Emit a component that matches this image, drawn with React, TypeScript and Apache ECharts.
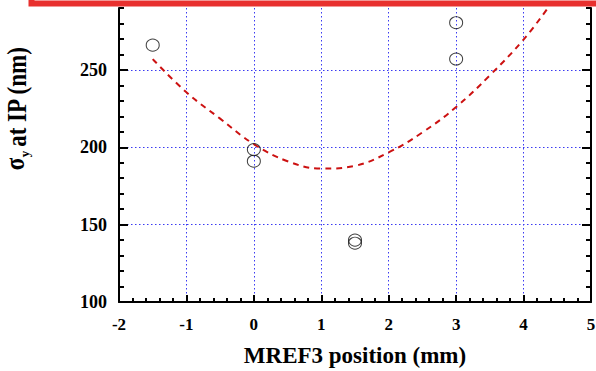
import React, { useEffect, useRef } from 'react';
import * as echarts from 'echarts';

// Measured points (open circles)
const pointX = [-1.5, 0, 0, 1.5, 1.5, 3, 3];
const pointY = [266, 198.5, 191, 140, 138, 280.5, 257];
// Dashed fit curve
const fitX = [-1.5, -1, -0.5, 0, 0.5, 1, 1.5, 2, 2.5, 3, 3.5, 4, 4.36];
const fitY = [257, 235.5, 218.5, 202, 191, 186.2, 188, 196.7, 209.6, 226, 246.5, 269.6, 290];
// Axes
const xRange = [-2, 5];
const yRange = [100, 290];
const yMajor = [100, 150, 200, 250];
const xTitle = 'MREF3 position (mm)';
const yTitleSigma = 'σ';
const yTitleSub = 'y';
const yTitleRest = 'at IP (nm)';

const SERIF = '"Liberation Serif", "Times New Roman", serif';
const GRID_COLOR = '#3a3af2';

export default function App() {
  const ref = useRef<HTMLDivElement>(null);
  useEffect(() => {
    document.body.style.margin = '0';
    const chart = echarts.init(ref.current!, null, { renderer: 'svg' });
    const dotted = { color: GRID_COLOR, width: 1, type: [1.5, 2.5] as any };
    const minorAxisBase = {
      type: 'value',
      min: yRange[0],
      max: yRange[1],
      interval: 10,
      axisLabel: { show: false },
      splitLine: { show: false },
    };
    chart.setOption({
      animation: false,
      backgroundColor: '#ffffff',
      grid: { left: 119, right: 5, top: 8, bottom: 69, containLabel: false, outerBoundsMode: 'none' },
      xAxis: [
        {
          type: 'value',
          position: 'bottom',
          min: xRange[0],
          max: xRange[1],
          interval: 1,
          name: xTitle,
          nameLocation: 'middle',
          nameGap: 42,
          nameTextStyle: { fontFamily: SERIF, fontWeight: 'bold', fontSize: 23, color: '#000' },
          axisLine: { show: true, onZero: false, lineStyle: { color: '#000', width: 2 } },
          axisTick: { show: true, inside: true, length: 7, lineStyle: { color: '#000', width: 2 } },
          minorTick: { show: true, splitNumber: 5, length: 4, lineStyle: { color: '#000', width: 2 } },
          axisLabel: {
            margin: 14,
            fontFamily: SERIF,
            fontWeight: 'bold',
            fontSize: 17,
            color: '#000',
          },
          splitLine: { show: true, showMinLine: false, showMaxLine: false, lineStyle: dotted },
        },
      ],
      yAxis: [
        {
          type: 'value',
          position: 'left',
          min: yRange[0],
          max: yRange[1],
          interval: 50,
          axisLine: { show: true, onZero: false, lineStyle: { color: '#000', width: 2 } },
          axisTick: { show: true, inside: true, length: 9, customValues: yMajor, lineStyle: { color: '#000', width: 2 } },
          axisLabel: {
            margin: 12,
            customValues: yMajor,
            fontFamily: SERIF,
            fontWeight: 'bold',
            fontSize: 18,
            color: '#000',
          },
          splitLine: { show: true, showMinLine: false, lineStyle: dotted },
        },
        {
          ...minorAxisBase,
          position: 'left',
          axisLine: { show: false, onZero: false },
          axisTick: { show: true, inside: true, length: 5, lineStyle: { color: '#000', width: 2 } },
        },
        {
          ...minorAxisBase,
          position: 'right',
          axisLine: { show: true, onZero: false, lineStyle: { color: '#000', width: 2 } },
          axisTick: { show: true, inside: true, length: 5, lineStyle: { color: '#000', width: 2 } },
        },
        {
          ...minorAxisBase,
          interval: 50,
          position: 'right',
          axisLine: { show: false, onZero: false },
          axisTick: { show: true, inside: true, length: 9, customValues: yMajor, lineStyle: { color: '#000', width: 2 } },
        },
      ],
      series: [
        {
          type: 'line',
          xAxisIndex: 0,
          yAxisIndex: 0,
          data: fitX.map((x, i) => [x, fitY[i]]),
          smooth: 0.4,
          showSymbol: false,
          symbol: 'none',
          clip: true,
          lineStyle: { color: '#cc1111', width: 2, type: [6, 5] as any },
          z: 3,
        },
        {
          type: 'scatter',
          xAxisIndex: 0,
          yAxisIndex: 0,
          data: pointX.map((x, i) => [x, pointY[i]]),
          symbol: 'circle',
          symbolSize: [13, 12],
          itemStyle: { color: 'rgba(0,0,0,0)', borderColor: '#111', borderWidth: 1 },
          z: 4,
        },
      ],
      graphic: [
        {
          type: 'rect',
          shape: { x: 31.5, y: -40, width: 620, height: 43.5 },
          style: { fill: 'none', stroke: '#e8302e', lineWidth: 6 },
          z: 10,
        },
        {
          type: 'text',
          x: 15,
          y: 164,
          rotation: Math.PI / 2,
          scaleY: 1.15,
          style: {
            text: yTitleSigma,
            font: `bold 23px ${SERIF}`,
            fill: '#000',
            textAlign: 'center',
            textVerticalAlign: 'middle',
          },
        },
        {
          type: 'text',
          x: 24,
          y: 154,
          rotation: Math.PI / 2,
          style: {
            text: yTitleSub,
            font: `bold 13px ${SERIF}`,
            fill: '#000',
            textAlign: 'center',
            textVerticalAlign: 'middle',
          },
        },
        {
          type: 'text',
          x: 17,
          y: 97,
          rotation: Math.PI / 2,
          scaleY: 1.15,
          style: {
            text: yTitleRest,
            font: `bold 23px ${SERIF}`,
            fill: '#000',
            textAlign: 'center',
            textVerticalAlign: 'middle',
          },
        },
      ],
    });
    return () => chart.dispose();
  }, []);
  return (
    <div
      ref={ref}
      style={{ position: 'fixed', left: 0, top: 0, width: 596, height: 371, background: '#fff' }}
    />
  );
}
